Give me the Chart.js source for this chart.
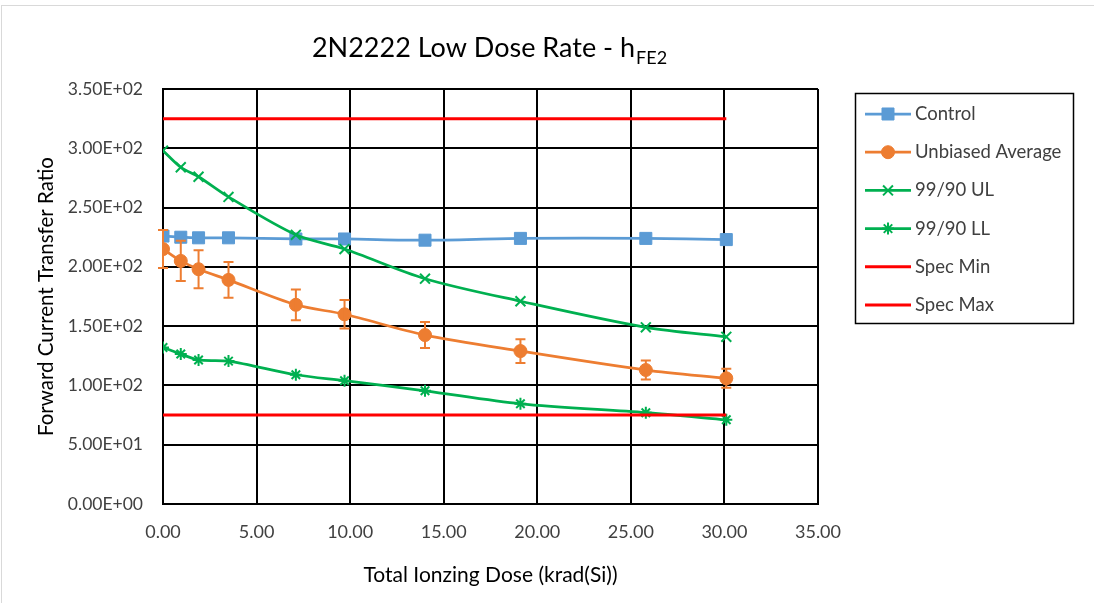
<!DOCTYPE html>
<html>
<head>
<meta charset="utf-8">
<script src="https://cdn.jsdelivr.net/npm/chart.js@4"></script>
<style>
  body { margin: 0; background: #fff; }
  #wrap { width: 1094px; height: 603px; position: relative; }
</style>
</head>
<body>
<div id="wrap"><canvas id="hfeChart"></canvas></div>
<script>
// dose points (krad(Si))
const doses = [0, 0.95, 1.9, 3.5, 7.1, 9.7, 14.0, 19.1, 25.8, 30.1];

const controlVals  = [226, 225, 224.5, 224.5, 223.5, 223.5, 222.5, 224, 224, 223];
const unbiasedVals = [215, 205, 198, 189, 168, 160, 142.5, 129, 113, 106];
const unbiasedErr  = [16, 17, 16, 15, 13, 12, 11, 10, 8, 8];
const ulVals       = [298, 284, 276, 259, 227, 215, 190, 171, 149, 141];
const llVals       = [132, 126.5, 121.5, 120.5, 109, 104, 95.5, 84.5, 77, 71];
const specMin = 75;
const specMax = 325;

const xTicks = [0, 5, 10, 15, 20, 25, 30, 35];
const yTicks = [0, 50, 100, 150, 200, 250, 300, 350];

const FONT = 'Lato, "Open Sans", sans-serif';
const TEXT = '#404040';

function pts(vals) {
  return vals.map((v, i) => ({ x: doses[i], y: v }));
}

function sci(v) {
  if (v === 0) return '0.00E+00';
  const e = Math.floor(Math.log10(v));
  const m = v / Math.pow(10, e);
  return m.toFixed(2) + 'E+' + String(e).padStart(2, '0');
}

const specLine = v => [{ x: doses[0], y: v }, { x: doses[doses.length - 1], y: v }];

// error bars for the unbiased average
const errorBars = {
  id: 'errorBars',
  afterDatasetsDraw(chart) {
    const { ctx, scales: { x, y } } = chart;
    ctx.save();
    ctx.strokeStyle = '#ED7D31';
    ctx.lineWidth = 2;
    unbiasedVals.forEach((v, i) => {
      const px = x.getPixelForValue(doses[i]);
      const top = y.getPixelForValue(v + unbiasedErr[i]);
      const bot = y.getPixelForValue(v - unbiasedErr[i]);
      ctx.beginPath();
      ctx.moveTo(px, top); ctx.lineTo(px, bot);
      ctx.moveTo(px - 5, top); ctx.lineTo(px + 5, top);
      ctx.moveTo(px - 5, bot); ctx.lineTo(px + 5, bot);
      ctx.stroke();
    });
    ctx.restore();
  }
};

// title with subscript, legend box, outer frame
const decorations = {
  id: 'decorations',
  afterDraw(chart) {
    const ctx = chart.ctx;
    ctx.save();

    ctx.strokeStyle = '#d9d9d9';
    ctx.lineWidth = 1;
    ctx.strokeRect(1.5, 5.5, 1200, 700);

    // title
    const main = '2N2222 Low Dose Rate - h';
    const sub = 'FE2';
    ctx.fillStyle = '#000';
    ctx.textBaseline = 'alphabetic';
    ctx.font = '27px ' + FONT;
    const wMain = ctx.measureText(main).width;
    ctx.font = '18px ' + FONT;
    const wSub = ctx.measureText(sub).width;
    const startX = 489 - (wMain + wSub) / 2;
    ctx.font = '27px ' + FONT;
    ctx.textAlign = 'left';
    ctx.fillText(main, startX, 57);
    ctx.font = '18px ' + FONT;
    ctx.fillText(sub, startX + wMain + 1, 64);

    // legend
    ctx.strokeStyle = '#000';
    ctx.lineWidth = 1.5;
    ctx.strokeRect(855.5, 93.5, 218, 230);
    ctx.font = '18.5px ' + FONT;
    ctx.textBaseline = 'middle';
    chart.data.datasets.forEach((ds, i) => {
      const cy = 114 + i * 38.2;
      ctx.strokeStyle = ds.borderColor;
      ctx.lineWidth = ds.borderWidth;
      ctx.beginPath();
      ctx.moveTo(865, cy); ctx.lineTo(911, cy);
      ctx.stroke();
      if (ds.pointRadius > 0) {
        ctx.fillStyle = ds.pointBackgroundColor;
        ctx.strokeStyle = ds.pointBorderColor;
        ctx.lineWidth = ds.pointBorderWidth;
        Chart.helpers.drawPoint(ctx, {
          pointStyle: ds.pointStyle,
          radius: ds.pointRadius,
          borderWidth: ds.pointBorderWidth,
          rotation: 0
        }, 888, cy);
      }
      ctx.fillStyle = TEXT;
      ctx.fillText(ds.label, 915, cy);
    });

    ctx.restore();
  }
};

const blue = '#5B9BD5', orange = '#ED7D31', green = '#00B050', red = '#FF0000';

new Chart(document.getElementById('hfeChart'), {
  type: 'line',
  data: {
    datasets: [
      {
        label: 'Control', data: pts(controlVals),
        borderColor: blue, backgroundColor: blue, borderWidth: 2.75,
        pointStyle: 'rect', pointRadius: 8.5, pointBackgroundColor: blue,
        pointBorderColor: blue, pointBorderWidth: 1, tension: 0.3, order: 6
      },
      {
        label: 'Unbiased Average', data: pts(unbiasedVals),
        borderColor: orange, backgroundColor: orange, borderWidth: 2.75,
        pointStyle: 'circle', pointRadius: 6.5, pointBackgroundColor: orange,
        pointBorderColor: orange, pointBorderWidth: 1, tension: 0.3, order: 5
      },
      {
        label: '99/90 UL', data: pts(ulVals),
        borderColor: green, backgroundColor: green, borderWidth: 2.75,
        pointStyle: 'crossRot', pointRadius: 7, pointBackgroundColor: green,
        pointBorderColor: green, pointBorderWidth: 2, tension: 0.3, order: 4
      },
      {
        label: '99/90 LL', data: pts(llVals),
        borderColor: green, backgroundColor: green, borderWidth: 2.75,
        pointStyle: 'star', pointRadius: 6, pointBackgroundColor: green,
        pointBorderColor: green, pointBorderWidth: 2, tension: 0.3, order: 3
      },
      {
        label: 'Spec Min', data: specLine(specMin),
        borderColor: red, backgroundColor: red, borderWidth: 3,
        pointRadius: 0, order: 2
      },
      {
        label: 'Spec Max', data: specLine(specMax),
        borderColor: red, backgroundColor: red, borderWidth: 3,
        pointRadius: 0, order: 1
      }
    ]
  },
  options: {
    responsive: true,
    maintainAspectRatio: false,
    animation: false,
    layout: { padding: { top: 89, right: 276, left: 0, bottom: 0 } },
    plugins: {
      legend: { display: false },
      title: { display: false },
      tooltip: { enabled: false }
    },
    scales: {
      x: {
        type: 'linear', min: 0, max: 35,
        afterBuildTicks: s => { s.ticks = xTicks.map(v => ({ value: v })); },
        afterFit: s => { s.height = 99; },
        ticks: {
          padding: 17, color: TEXT, font: { family: FONT, size: 18 },
          callback: v => v.toFixed(2)
        },
        grid: { color: '#000', lineWidth: 2, drawTicks: false },
        border: { color: '#000', width: 2 },
        title: {
          display: true, text: 'Total Ionzing Dose (krad(Si))', color: '#000',
          font: { family: FONT, size: 21 }, padding: { top: 0, bottom: 15 }
        }
      },
      y: {
        type: 'linear', min: 0, max: 350,
        afterBuildTicks: s => { s.ticks = yTicks.map(v => ({ value: v })); },
        afterFit: s => { s.width = 163; },
        ticks: {
          padding: 20, color: TEXT, font: { family: FONT, size: 17.5 },
          callback: v => sci(v)
        },
        grid: { color: '#000', lineWidth: 2, drawTicks: false },
        border: { color: '#000', width: 2 },
        title: {
          display: true, text: 'Forward Current Transfer Ratio', color: '#000',
          font: { family: FONT, size: 20.5 }, padding: { top: 34, bottom: 0 }
        }
      }
    }
  },
  plugins: [errorBars, decorations]
});
</script>
</body>
</html>
